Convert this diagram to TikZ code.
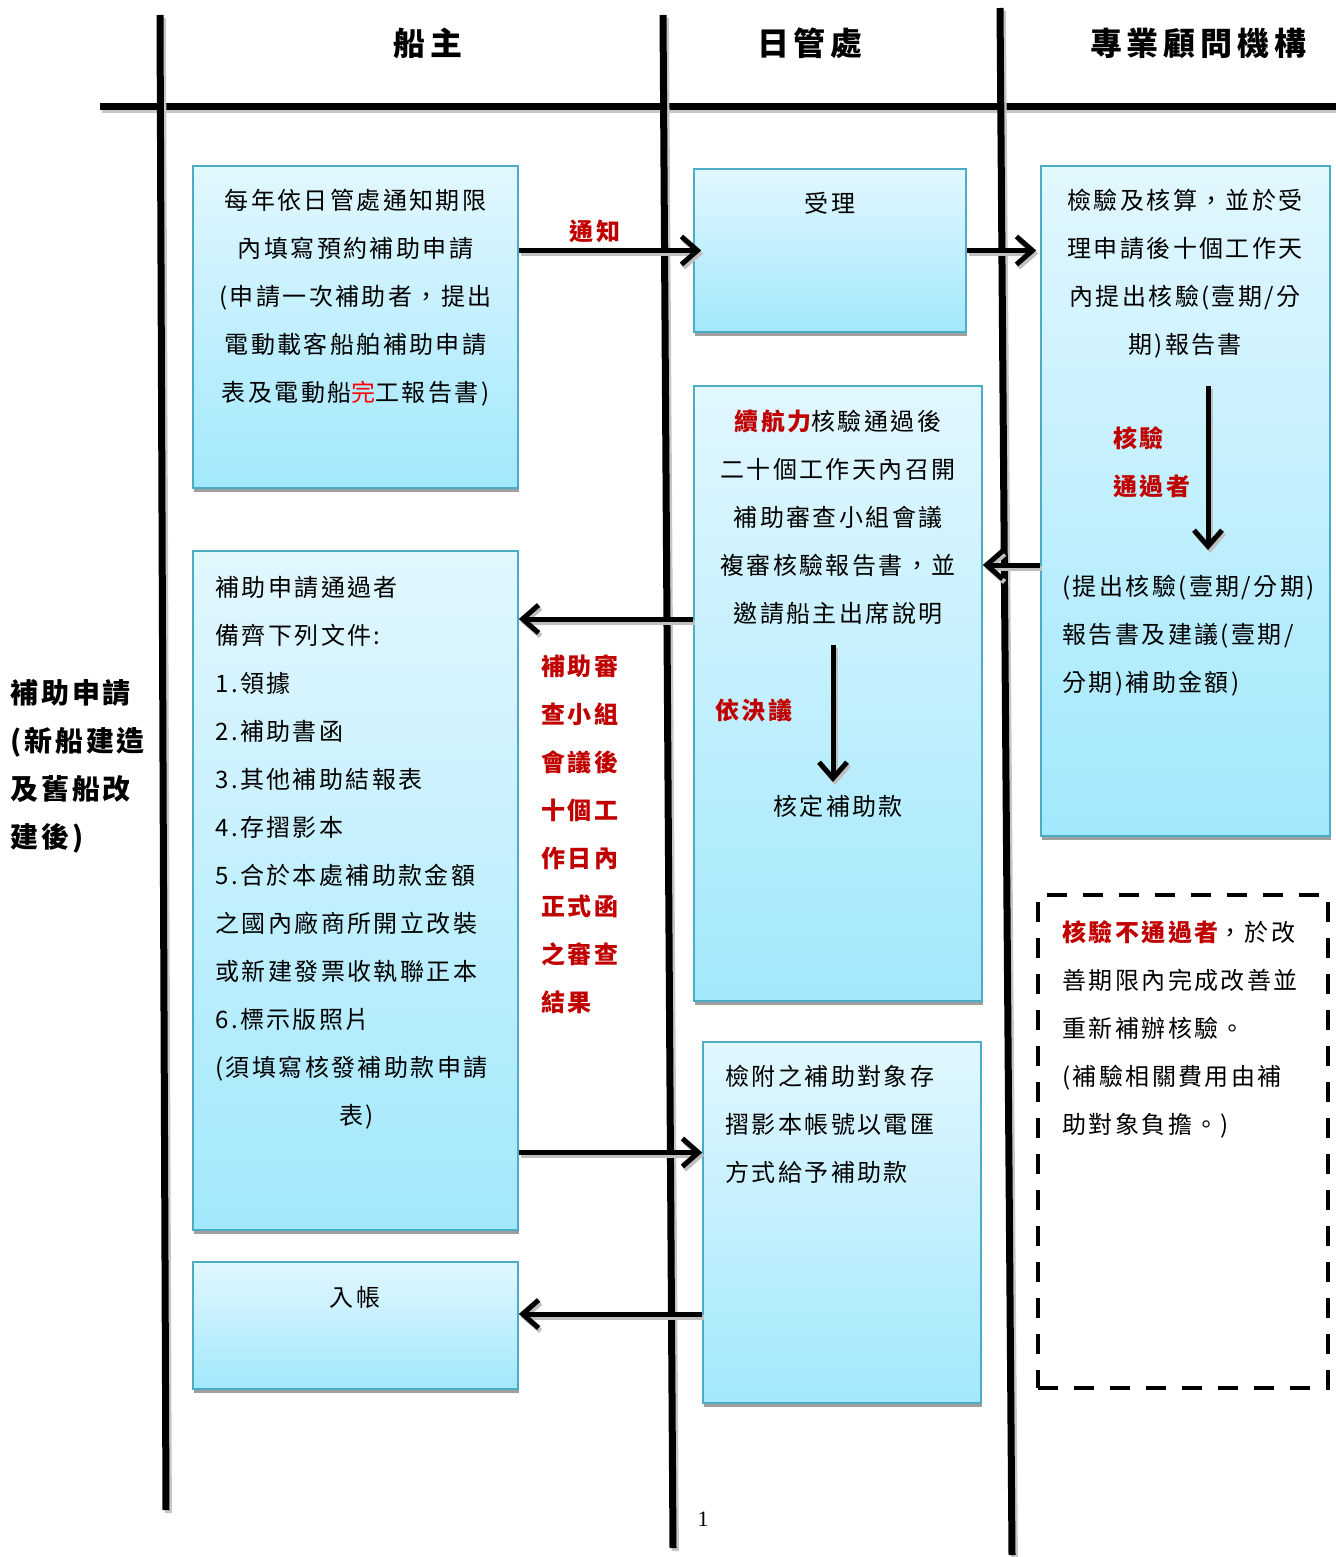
\documentclass[tikz,border=0pt]{standalone}
\usepackage{fontspec}
\setmainfont{Noto Sans CJK TC}[LetterSpace=10]
\newfontfamily\pagefont{Liberation Serif}
\usetikzlibrary{arrows.meta, shadows, calc, positioning}
\definecolor{boxtop}{HTML}{E2F7FE}
\definecolor{boxbot}{HTML}{A2E8FC}
\definecolor{boxline}{HTML}{4BACC6}
\definecolor{red1}{HTML}{C00000}

\begin{document}
\begin{tikzpicture}[x=0.5pt,y=-0.5pt,>={Straight Barb[length=8pt,width=14pt]},
                    line cap=butt]
  \tikzstyle{lane}=[line width=3.5pt,preaction={draw=gray!45,line width=3.5pt,
                    transform canvas={shift={(1.2pt,-1.5pt)}}}]
  \tikzstyle{box}=[draw=boxline,line width=0.8pt,top color=boxtop,bottom color=boxbot,
                   inner sep=0pt,drop shadow={shadow xshift=0.6pt,shadow yshift=-2pt,
                   fill=gray!75,opacity=1}]
  \tikzstyle{dashbox}=[draw,line width=2pt,dash pattern=on 10pt off 8pt,inner sep=0pt]
  \tikzstyle{body}=[inner sep=0pt,font=\fontsize{12}{24}\selectfont]
  \tikzstyle{head}=[inner sep=0pt,font=\fontsize{16}{20}\selectfont\bfseries\addfontfeatures{LetterSpace=15}]
  \tikzstyle{redlabel}=[inner sep=0pt,text=red1,font=\fontsize{12}{24}\selectfont\bfseries]
  \tikzstyle{flow}=[->,line width=2.5pt,preaction={draw=gray!50,line width=2.5pt,
                    transform canvas={shift={(1pt,-1.5pt)}}}]

  \useasboundingbox (0,0) rectangle (1336,1557);

  \draw[lane] (100,107) -- (1336,107);
  \draw[lane] (160,15) -- (166,1510);
  \draw[lane] (663,15) -- (673,1548);
  \draw[lane] (1000,8) -- (1012,1555);

  \node[head] (owner)  at (428,43)  {船主};
  \node[head] (office) at (810,43)  {日管處};
  \node[head] (expert) at (1198,43) {專業顧問機構};

  \node[inner sep=0pt,anchor=north west,align=left,
        font=\fontsize{14}{24}\selectfont\bfseries] (phase) at (10,679)
        {補助申請\\(新船建造\\及舊船改\\建後)};

  \node[box,minimum width=162.5pt,minimum height=161pt]   (apply)  at (355.5,327)  {};
  \node[box,minimum width=136pt,minimum height=81.5pt]    (accept) at (830,250.5)  {};
  \node[box,minimum width=144.5pt,minimum height=335pt]   (audit)  at (1185.5,501) {};
  \node[box,minimum width=144pt,minimum height=307.5pt]   (review) at (838,693.5)  {};
  \node[box,minimum width=162.5pt,minimum height=339.5pt] (docs)   at (355.5,890.5) {};
  \node[box,minimum width=162.5pt,minimum height=63.5pt]  (credit) at (355.5,1325.5) {};
  \node[box,minimum width=139pt,minimum height=180.5pt]   (pay)    at (842,1222.5) {};
  \node[dashbox,minimum width=145pt,minimum height=246.5pt] (fail) at (1183,1141.5) {};

  \node[body,anchor=north,align=center] (applytxt) at (355.5,189)
        {每年依日管處通知期限\\內填寫預約補助申請\\(申請一次補助者，提出\\電動載客船舶補助申請\\表及電動船\textcolor{red}{完}工報告書)};
  \node[body] (accepttxt) at (830,203) {受理};
  \node[body,anchor=north,align=center] (audittxt) at (1185,189)
        {檢驗及核算，並於受\\理申請後十個工作天\\內提出核驗(壹期/分\\期)報告書};
  \node[body,anchor=north west,align=left] (reporttxt) at (1062,575)
        {(提出核驗(壹期/分期)\\報告書及建議(壹期/\\分期)補助金額)};
  \node[redlabel,anchor=north west,align=left] (passlbl) at (1113,426) {核驗\\通過者};
  \node[body,anchor=north,align=center] (reviewtxt) at (838,410)
        {\textcolor{red1}{\bfseries 續航力}核驗通過後\\二十個工作天內召開\\補助審查小組會議\\複審核驗報告書，並\\邀請船主出席說明};
  \node[redlabel] (resolve) at (754,710) {依決議};
  \node[body] (granttxt) at (838,806) {核定補助款};
  \node[body,anchor=north west,align=left] (docstxt) at (215,576)
        {補助申請通過者\\備齊下列文件:\\1.領據\\2.補助書函\\3.其他補助結報表\\4.存摺影本\\5.合於本處補助款金額\\之國內廠商所開立改裝\\或新建發票收執聯正本\\6.標示版照片\\(須填寫核發補助款申請\\\hspace*{62pt}表)};
  \node[redlabel,anchor=north west,align=left] (meetlbl) at (541,654)
        {補助審\\查小組\\會議後\\十個工\\作日內\\正式函\\之審查\\結果};
  \node[body] (credittxt) at (355,1297) {入帳};
  \node[body,anchor=north west,align=left] (paytxt) at (725,1065)
        {檢附之補助對象存\\摺影本帳號以電匯\\方式給予補助款};
  \node[body,anchor=north west,align=left] (failtxt) at (1062,920)
        {\textcolor{red1}{\bfseries 核驗不通過者}，於改\\善期限內完成改善並\\重新補辦核驗。\\(補驗相關費用由補\\助對象負擔。)};
  \node[redlabel] (notice) at (595,231) {通知};

  \coordinate (c2d) at ($(audit.west)+(0,64)$);
  \coordinate (d2e) at ($(review.west)+(0,-74.5)$);
  \coordinate (e2g) at ($(docs.east)+(0,262)$);
  \coordinate (g2f) at ($(pay.west)+(0,91.5)$);
  \coordinate (passtop) at (1208,386);
  \coordinate (passend) at (1208,550);
  \coordinate (granttop) at (833,645);
  \coordinate (grantend) at (833,782);

  \draw[flow,shorten >=-4pt] (apply.east |- accept.west) -- (accept.west);
  \draw[flow,shorten >=2pt] (accept.east) -- (accept.east -| audit.west);
  \draw[flow] (c2d) -- (c2d -| review.east);
  \draw[flow] (d2e) -- (d2e -| docs.east);
  \draw[flow] (e2g) -- (e2g -| pay.west);
  \draw[flow] (g2f) -- (g2f -| credit.east);
  \draw[flow] (passtop) -- (passend);
  \draw[flow] (granttop) -- (grantend);

  \node[font=\pagefont\fontsize{11}{12}\selectfont] (pagenum) at (703,1519) {1};
\end{tikzpicture}
\end{document}
